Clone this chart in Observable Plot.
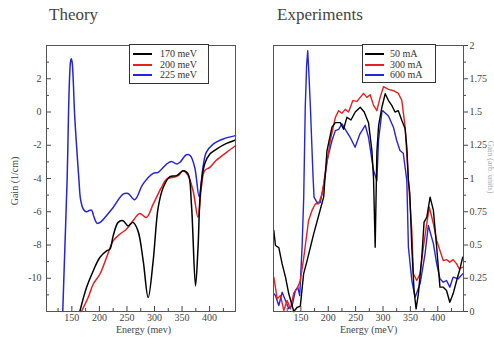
<!DOCTYPE html>
<html><head><meta charset="utf-8">
<script src="https://cdn.jsdelivr.net/npm/d3@7"></script>
<script src="https://cdn.jsdelivr.net/npm/@observablehq/plot@0.6"></script>
<style>
body{margin:0;background:#fff;}
#wrap{position:relative;width:494px;height:338px;overflow:hidden;font-family:"Liberation Serif","Times New Roman","DejaVu Serif",serif;color:#333;}
#wrap svg, #wrap svg text{font-family:"Liberation Serif","Times New Roman","DejaVu Serif",serif !important;}
.abs{position:absolute;white-space:nowrap;line-height:1;}
.leg{position:absolute;border:1px solid #333;background:#fff;font-size:10px;}
.leg .row{position:absolute;left:0;right:0;height:10px;}
.leg .sw{position:absolute;height:2px;}
.leg .tx{position:absolute;top:-1px;}
</style></head><body><div id="wrap"></div>
<script>
// ---------- Theory panel (Gain, 1/cm) ----------
const theory170E = [164.5,176.6,188.7,200.8,213,219,225,234,243,252,261,270,279.5,288.5,297.6,306.7,315.8,328,340,352,361,367,374.4,379,383.5,391,400.5,412.6,430.7,447];
const theory170G = [-12,-10.56,-9.56,-8.75,-8.35,-8.25,-7.45,-6.64,-6.54,-6.85,-6.64,-7.15,-8.95,-11.16,-8.95,-5.74,-4.54,-3.89,-3.83,-3.53,-3.73,-5.54,-10.46,-8.15,-4.74,-3.13,-2.53,-2.23,-1.89,-1.68];
const theory200E = [167.5,179.6,188.7,200.8,213,225,237,249,261,273,285.5,297.6,312.7,322,334,343,352,361,370,379,385,391,400.5,412.6,430.7,447];
const theory200G = [-12,-11.16,-10.36,-9.76,-8.75,-7.75,-7.35,-7.05,-6.54,-6.1,-6.34,-5.54,-4.54,-4.03,-3.93,-3.83,-3.53,-3.83,-4.74,-6.34,-4.54,-3.53,-3.33,-2.89,-2.43,-2.03];
const theory225E = [133.5,137.5,141.5,144,145.8,147.5,149,150.5,152.4,154.8,158.5,162.7,166,171,176,180,185.7,190,196,203,210,225,243,252,264,279,297.6,306.7,322,331,340,346,358,365,373,381,388,394,406.5,424.7,447];
const theory225G = [-12,-8,-4,0,2,3,3.2,3,2,0,-2,-4,-5.3,-5.85,-6.0,-5.95,-5.9,-6.3,-6.7,-6.6,-6.34,-5.74,-4.94,-4.9,-5.28,-4.34,-3.69,-3.63,-3.13,-2.97,-3.13,-3.03,-2.57,-2.63,-3.33,-5.1,-3.33,-2.43,-1.93,-1.62,-1.42];
const theoryLabels = ["170 meV","200 meV","225 meV"];
const theoryYTicks = [-10,-8,-6,-4,-2,0,2];
const theoryYMinor = [-11,-9,-7,-5,-3,-1,1,3];

// ---------- Experiments panel ----------
const exp50E = [100.6,103.6,109.7,115.8,121.9,127.9,134,137,143,149,155,161.4,167.4,173.4,182.5,191.6,197.7,206.8,213,222,228,234,241.5,249.3,258.4,265.7,273.5,279.7,282.7,285.7,288.8,292,298,304,310,316,322,328,334.4,340.4,343.5,346.4,349,352.6,356.7,360.4,364.6,370.8,375,380,386,392,398,404,410,416,422,428,434.5,440.5,445.5];
const exp50V = [0.609,0.496,0.48,0.358,0.258,0.133,0.045,0.0,0.03,0.04,0.283,0.383,0.483,0.584,0.722,0.86,1.21,1.386,1.42,1.42,1.37,1.46,1.44,1.5,1.536,1.5,1.42,1.21,1.0,0.483,1.2,1.4,1.536,1.637,1.586,1.55,1.5,1.51,1.436,1.374,1.235,0.985,0.885,0.483,0.158,0.02,0.133,0.408,0.672,0.71,0.86,0.76,0.483,0.183,0.183,0.158,0.07,0.133,0.233,0.32,0.408];
const exp300E = [100.6,103.6,106.7,112.8,118.8,124.9,130.9,137,143,149,155,164,170.4,176.5,182.5,188.6,194.7,203.8,213,219,225,231,237,245,252.4,258.4,264.4,270.6,276.6,282.7,288.8,294.8,300.9,310,319,328,334.4,340.4,346.4,352.6,355.5,361.7,367.7,373.7,379.9,384.6,392,398,404,410,416,422,428,434.5,439.3,445.5];
const exp300V = [0.258,0.18,0.095,0.12,0.008,0.083,0.02,0.14,0.17,0.233,0.396,0.684,0.76,0.81,0.81,0.885,1.035,1.286,1.46,1.51,1.49,1.52,1.5,1.586,1.58,1.61,1.64,1.61,1.63,1.55,1.51,1.61,1.69,1.67,1.66,1.64,1.586,1.386,0.985,0.609,0.283,0.233,0.283,0.483,0.66,0.784,0.66,0.534,0.459,0.383,0.39,0.371,0.39,0.358,0.32,0.333];
const exp600E = [100.6,103.6,109.7,115.8,121.9,127.9,134,140,144.3,147.9,152.2,155.2,158,160.5,162.5,164.5,167.4,172,174,179.5,185.6,191.6,197.7,206.8,213,219,225,231,240,249,258,267.5,273.5,282.7,288.8,291.8,298,299.5,310,319,325,331,337,343.5,346.4,352.6,358.6,367.7,376.8,382.8,392,398,404,410,416,422,428,437.5,445.5];
const exp600V = [0.133,0.12,0.045,0.145,0.083,0.02,0.045,0.158,0.183,0.12,0.483,0.86,1.536,1.85,1.96,1.8,1.536,1.035,0.86,0.82,0.82,0.95,1.135,1.286,1.36,1.37,1.41,1.37,1.31,1.235,1.336,1.4,1.31,1.06,0.985,1.286,1.5,1.51,1.47,1.386,1.286,1.21,1.19,0.985,0.483,0.233,0.108,0.208,0.434,0.647,0.51,0.36,0.246,0.22,0.233,0.183,0.258,0.246,0.283];
const expLabels = ["50 mA","300 mA","600 mA"];
const expYTicks = [0,0.25,0.5,0.75,1,1.25,1.5,1.75,2];
const expYMinor = [0.125,0.375,0.625,0.875,1.125,1.375,1.625,1.875];

const xTicks = [150,200,250,300,350,400];
const xMinor = [125,175,225,275,325,375,425];
const colors = ["#000000","#e62020","#2424dc"];

const zip = (E, V) => E.map((e, i) => ({e, v: V[i]}));
const fmt = d => String(d);
const blank = () => "";

const wrap = document.getElementById("wrap");
function place(el, left, top) {
  el.style.position = "absolute"; el.style.left = left + "px"; el.style.top = top + "px";
  wrap.appendChild(el);
}
const serif = '"Liberation Serif","Times New Roman","DejaVu Serif",serif';
const common = {style: {fontFamily: serif, fontSize: "10px", color: "#333", background: "transparent", overflow: "visible"}};

// Theory plot
const pTheory = Plot.plot({
  ...common,
  width: 250, height: 338, marginLeft: 46, marginRight: 15, marginTop: 45, marginBottom: 27,
  x: {domain: [104, 447], label: null},
  y: {domain: [-12, 4], label: null},
  marks: [
    Plot.line(zip(theory225E, theory225G), {x: "e", y: "v", stroke: colors[2], strokeWidth: 1.5, curve: "catmull-rom"}),
    Plot.line(zip(theory200E, theory200G), {x: "e", y: "v", stroke: colors[1], strokeWidth: 1.5, curve: "catmull-rom"}),
    Plot.line(zip(theory170E, theory170G), {x: "e", y: "v", stroke: colors[0], strokeWidth: 1.5, curve: "catmull-rom"}),
    Plot.axisY(theoryYTicks, {tickSize: -5, tickFormat: blank, stroke: "#444", label: null}),
    Plot.axisY(theoryYMinor, {tickSize: -3, tickFormat: blank, stroke: "#444", label: null}),
    Plot.axisY(theoryYTicks, {tickSize: 0, tickPadding: 5, tickFormat: fmt, fill: "#444", label: null}),
    Plot.axisX(xTicks, {tickSize: -5, tickFormat: blank, stroke: "#444", label: null}),
    Plot.axisX(xMinor, {tickSize: -3, tickFormat: blank, stroke: "#444", label: null}),
    Plot.axisX(xTicks, {tickSize: 0, tickPadding: 2, tickFormat: fmt, fill: "#444", label: null}),
    Plot.frame({stroke: "#555"})
  ]
});
place(pTheory, 0, 0);

// Experiments plot
const pExp = Plot.plot({
  ...common,
  width: 244, height: 338, marginLeft: 23, marginRight: 31, marginTop: 45, marginBottom: 27,
  x: {domain: [100, 447], label: null},
  y: {domain: [0, 2], label: null},
  marks: [
    Plot.line(zip(exp600E, exp600V), {x: "e", y: "v", stroke: colors[2], strokeWidth: 1.4}),
    Plot.line(zip(exp300E, exp300V), {x: "e", y: "v", stroke: colors[1], strokeWidth: 1.4}),
    Plot.line(zip(exp50E, exp50V), {x: "e", y: "v", stroke: colors[0], strokeWidth: 1.4}),
    Plot.axisY(expYTicks, {anchor: "right", tickSize: 4, tickPadding: 2, tickFormat: fmt, stroke: "#444", fill: "#444", label: null}),
    Plot.axisY(expYMinor, {anchor: "right", tickSize: 2, tickFormat: blank, stroke: "#444", label: null}),
    Plot.axisX(xTicks, {tickSize: -5, tickFormat: blank, stroke: "#444", label: null}),
    Plot.axisX(xMinor, {tickSize: -3, tickFormat: blank, stroke: "#444", label: null}),
    Plot.axisX(xTicks, {tickSize: 0, tickPadding: 2, tickFormat: fmt, fill: "#444", label: null}),
    Plot.frame({stroke: "#555"})
  ]
});
place(pExp, 250, 0);

// Titles and axis labels
function text(str, left, top, size, extra) {
  const d = document.createElement("div");
  d.className = "abs"; d.textContent = str;
  d.style.fontSize = size + "px";
  Object.assign(d.style, extra || {});
  place(d, left, top);
  return d;
}
text("Theory", 49, 6, 17, {color: "#444"});
text("Experiments", 277, 6, 17, {color: "#444"});
text("Energy (mev)", 116, 325, 10, {color: "#444"});
text("Energy (meV)", 340, 325, 10, {color: "#444"});
text("Gain (1/cm)", -13, 176, 10, {color: "#444", transform: "rotate(-90deg)", transformOrigin: "center", width: "56px", textAlign: "center"});
text("Gain (arb. units)", 435, 163, 8, {color: "#aaa", transform: "rotate(90deg)", transformOrigin: "center", width: "110px", textAlign: "center"});

// Legends
function legend(left, top, w, h, labels, swL, swW, txL) {
  const box = document.createElement("div");
  box.className = "leg";
  box.style.width = w + "px"; box.style.height = h + "px";
  labels.forEach((lab, i) => {
    const row = document.createElement("div");
    row.className = "row"; row.style.top = (4 + i * 10.5) + "px";
    const sw = document.createElement("div");
    sw.className = "sw"; sw.style.left = swL + "px"; sw.style.width = swW + "px"; sw.style.top = "4px"; sw.style.background = colors[i];
    const tx = document.createElement("div");
    tx.className = "tx"; tx.style.left = txL + "px"; tx.textContent = lab;
    row.appendChild(sw); row.appendChild(tx); box.appendChild(row);
  });
  place(box, left, top);
}
legend(129, 44, 78, 38, theoryLabels, 3, 19, 30);
legend(362, 44, 72, 37, expLabels, 2, 19, 27);
</script></body></html>
